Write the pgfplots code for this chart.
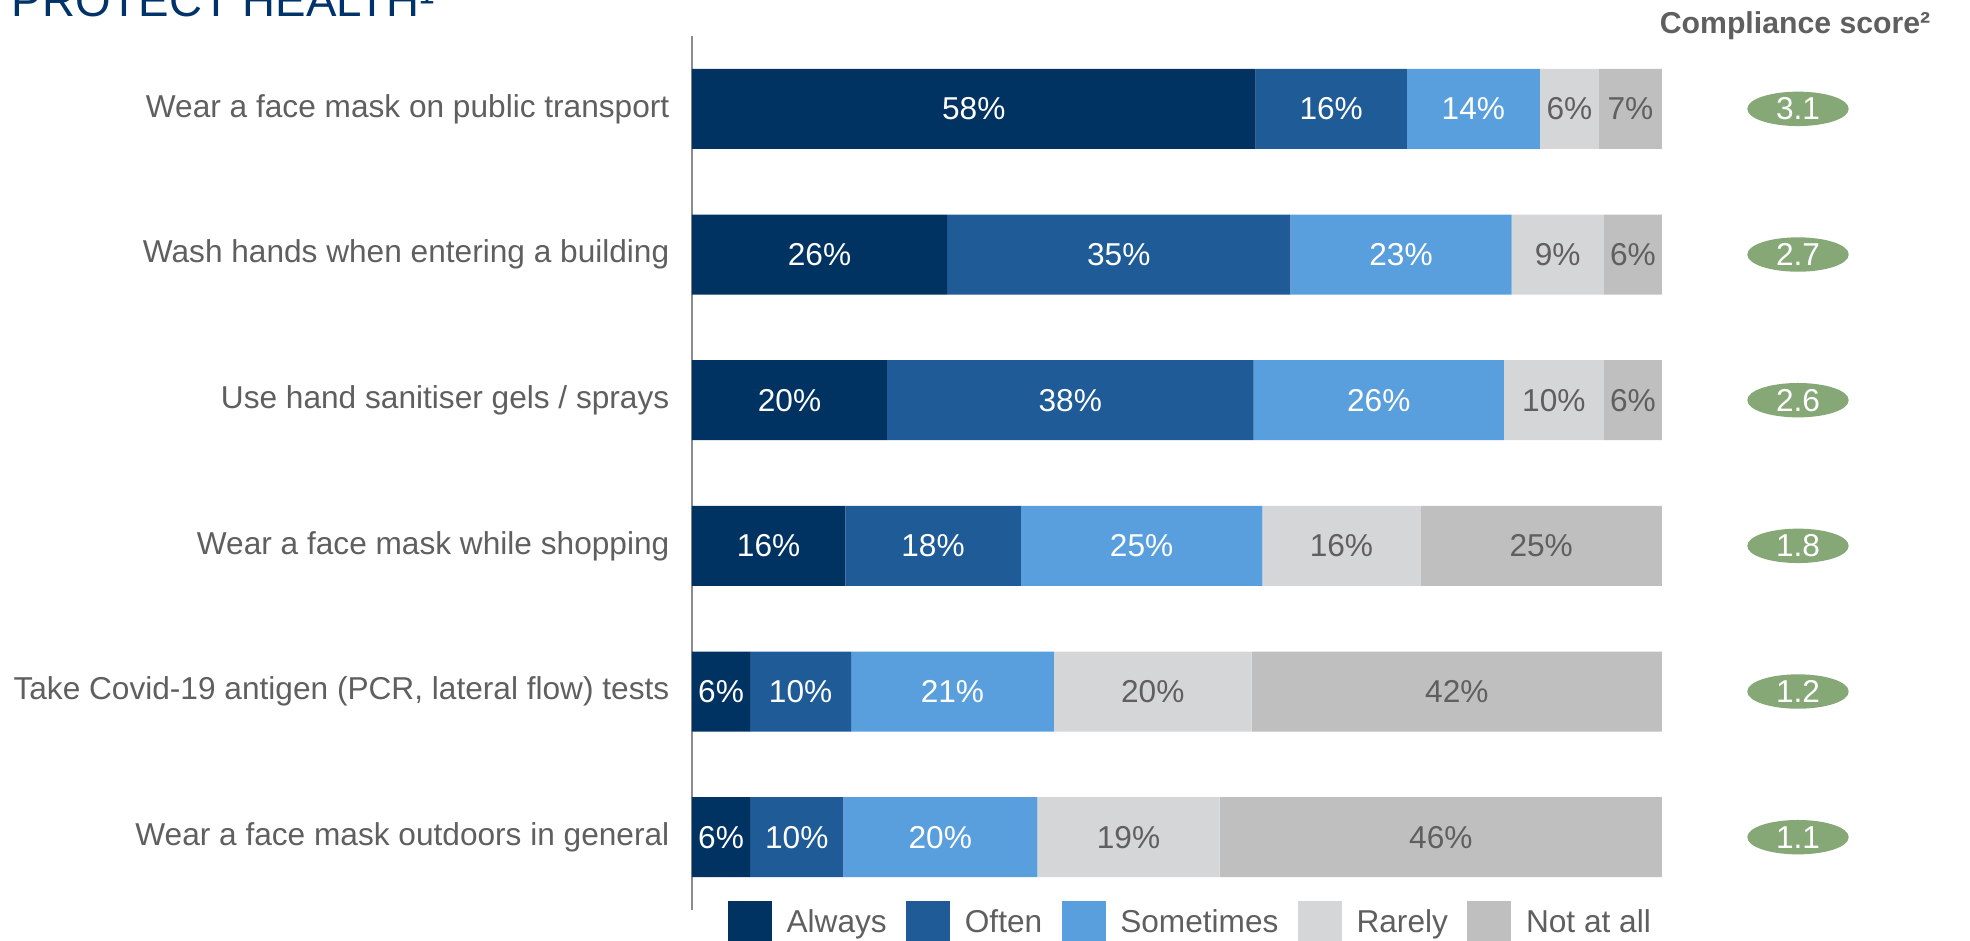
\documentclass[border=0pt]{standalone}
\usepackage{pgfplots}
\pgfplotsset{compat=1.18}
\usepackage{pgfplotstable}
\usepackage{fontspec}
\setmainfont{Liberation Sans}
\definecolor{cAlways}{HTML}{003262}
\definecolor{cOften}{HTML}{1E5B97}
\definecolor{cSome}{HTML}{599FDD}
\definecolor{cRare}{HTML}{D5D6D8}
\definecolor{cNot}{HTML}{BFBFBF}
\definecolor{cGreen}{HTML}{86A877}
\definecolor{cText}{HTML}{5F5F5F}
\definecolor{cTitle}{HTML}{00336A}
\pgfplotstableread{
row a b c d e la lb lc ld le
0 58.1 15.6 13.7 6.1 6.5 58 16 14 6 7
1 26.3 35.4 22.8 9.5 6.0 26 35 23 9 6
2 20.1 37.8 25.8 10.3 6.0 20 38 26 10 6
3 15.8 18.1 24.9 16.3 24.9 16 18 25 16 25
4 6.0 10.4 20.9 20.4 42.3 6 10 21 20 42
5 6.0 9.6 20.0 18.8 45.6 6 10 20 19 46
}\bars
\pgfplotstableread{
row x s
0 0.5 3.1
1 0.5 2.7
2 0.5 2.6
3 0.5 1.8
4 0.5 1.2
5 0.5 1.1
}\scores
\begin{document}
\begin{tikzpicture}
\fontsize{9pt}{11pt}\selectfont
\node[anchor=base west, inner sep=0pt, text=cTitle, font=\fontsize{13pt}{15pt}\selectfont] at (1.1mm,-1.6mm) {PROTECT HEALTH¹};
\node[anchor=base east, inner sep=0pt, text=cText, font=\fontsize{8.6pt}{10pt}\selectfont\bfseries] at (193.1mm,-3.3mm) {Compliance score²};
\begin{axis}[
  at={(69.2mm,-3.6mm)}, anchor=north west,
  scale only axis, width=97mm, height=87.4mm,
  xbar stacked, bar width=8mm,
  xmin=0, xmax=100, ymin=-0.5, ymax=5.5, enlargelimits=false,
  y dir=reverse,
  axis x line=none, axis y line*=left,
  y axis line style={draw=black!45, line width=0.5pt},
  ytick={0,...,5}, major tick length=0pt,
  yticklabels={Wear a face mask on public transport, Wash hands when entering a building, Use hand sanitiser gels / sprays, Wear a face mask while shopping, {Take Covid-19 antigen (PCR, lateral flow) tests}, Wear a face mask outdoors in general},
  yticklabel style={text=cText, inner sep=0pt, xshift=-2.2mm, font=\fontsize{9pt}{11pt}\selectfont},
  point meta=explicit symbolic,
  nodes near coords={\pgfplotspointmeta\%},
  every node near coord/.append style={anchor=center, font=\fontsize{9pt}{11pt}\selectfont},
  legend columns=5,
  legend style={at={(0.5165,-0.015)}, anchor=center, draw=none, fill=none,
    font=\fontsize{9pt}{11pt}\selectfont, text=cText,
    /tikz/every odd column/.append style={column sep=0.75mm},
    /tikz/every even column/.append style={column sep=1.25mm},
    inner sep=0pt},
  legend image code/.code={\fill[#1, draw=none] (0cm,-0.22cm) rectangle (0.44cm,0.22cm);},
  clip=false,
]
\addplot[fill=cAlways, draw=none, every node near coord/.append style={text=white}] table[x=a, y=row, meta=la] {\bars};
\addplot[fill=cOften, draw=none, every node near coord/.append style={text=white}] table[x=b, y=row, meta=lb] {\bars};
\addplot[fill=cSome, draw=none, every node near coord/.append style={text=white}] table[x=c, y=row, meta=lc] {\bars};
\addplot[fill=cRare, draw=none, every node near coord/.append style={text=cText}] table[x=d, y=row, meta=ld] {\bars};
\addplot[fill=cNot, draw=none, every node near coord/.append style={text=cText}] table[x=e, y=row, meta=le] {\bars};
\legend{Always, Often, Sometimes, Rarely, Not at all}
\end{axis}
\begin{axis}[
  at={(174.8mm,-3.6mm)}, anchor=north west,
  scale only axis, width=10mm, height=87.4mm,
  xmin=0, xmax=1, ymin=-0.5, ymax=5.5, enlargelimits=false,
  y dir=reverse, hide axis, clip=false,
]
\addplot[only marks, mark=*, mark size=1.65mm, color=cGreen,
  mark options={fill=cGreen, draw=cGreen, xscale=3.03},
  point meta=explicit symbolic, nodes near coords,
  every node near coord/.append style={anchor=center, text=white, font=\fontsize{9pt}{11pt}\selectfont}]
  table[x=x, y=row, meta=s] {\scores};
\end{axis}
\pgfresetboundingbox
\useasboundingbox (0,0) rectangle (197mm,-94mm);
\end{tikzpicture}
\end{document}
